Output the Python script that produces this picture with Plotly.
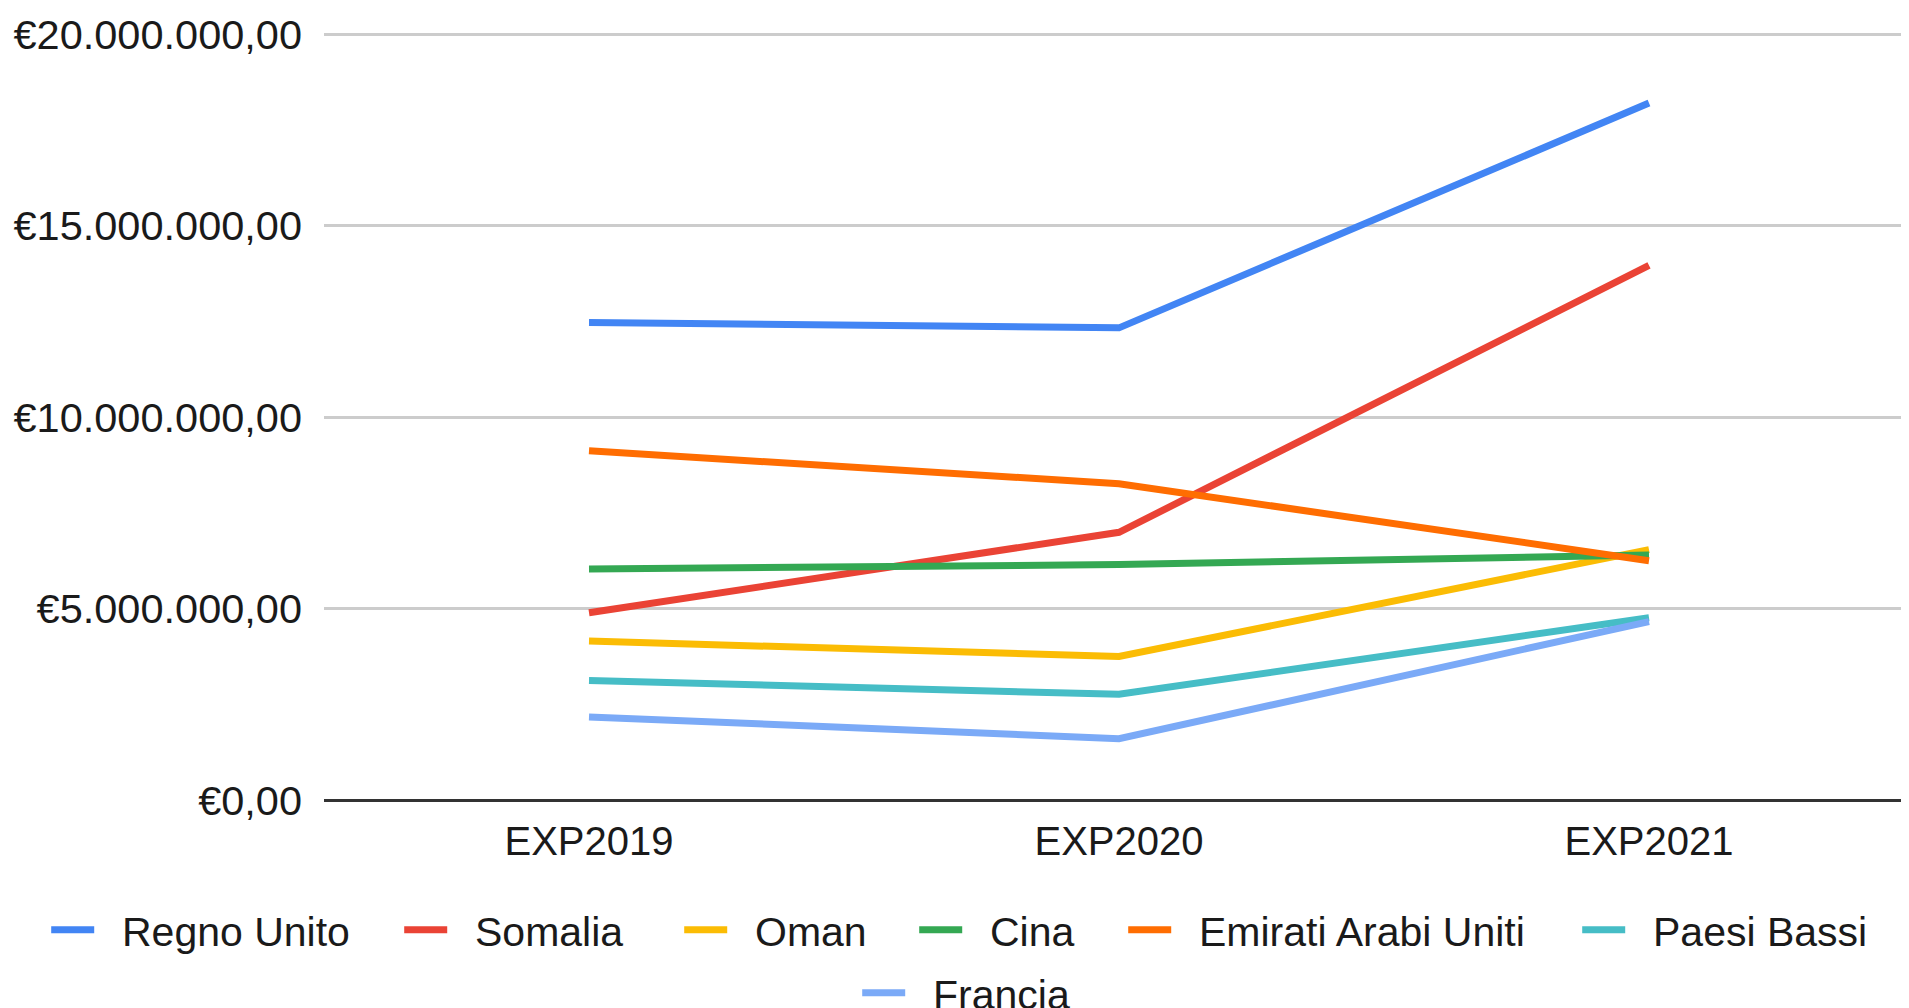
import plotly.graph_objects as go

categories = ["EXP2019", "EXP2020", "EXP2021"]

series_names = ["Regno Unito", "Somalia", "Oman", "Cina",
                "Emirati Arabi Uniti", "Paesi Bassi", "Francia"]

regno_unito = [12470000, 12330000, 18200000]
somalia = [4890000, 6990000, 13960000]
oman = [4150000, 3750000, 6540000]
cina = [6030000, 6150000, 6400000]
emirati = [9120000, 8260000, 6250000]
paesi_bassi = [3120000, 2760000, 4760000]
francia = [2170000, 1600000, 4660000]

series_values = [regno_unito, somalia, oman, cina, emirati, paesi_bassi, francia]
colors = ["#4285F4", "#EA4335", "#FBBC04", "#34A853", "#FF6D01", "#46BDC6", "#7BAAF7"]

# legend text start (px) and row centre (px) measured from reference
legend_text_x = [122, 475, 755, 990, 1199, 1653, 933]
legend_row_y = [930, 930, 930, 930, 930, 930, 993]

W, H = 1909, 1008
PAGE_OFF = 8  # default body margin of the html page
FONT = "Liberation Sans, Arial, sans-serif"
ITEMW = 43
PAD_TXT = "\u00a0\u00a0"
PAD_PX = 2 * 0.278 * 41

fig = go.Figure()
for i, (name, vals, col) in enumerate(zip(series_names, series_values, colors)):
    lg = "legend" if i == 0 else f"legend{i+1}"
    fig.add_trace(go.Scatter(
        x=categories, y=vals, name=PAD_TXT + name, mode="lines",
        line=dict(color=col, width=7),
        legend=lg,
    ))

layout_legends = {}
for i in range(len(series_names)):
    key = "legend" if i == 0 else f"legend{i+1}"
    lx = legend_text_x[i] - PAGE_OFF - (ITEMW + 10) - PAD_PX
    ly = legend_row_y[i] - PAGE_OFF
    layout_legends[key] = dict(
        orientation="h",
        xref="container", yref="container",
        x=lx / W,
        y=1 - ly / H,
        xanchor="left", yanchor="middle",
        font=dict(family=FONT, size=41, color="#1a1a1a"),
        bgcolor="rgba(0,0,0,0)",
        itemwidth=ITEMW,
        borderwidth=0,
    )

fig.update_layout(
    width=W, height=H,
    margin=dict(l=316, r=3, t=5, b=216, pad=0),
    paper_bgcolor="white", plot_bgcolor="white",
    separators=",.",
    font=dict(family=FONT, size=40, color="#1a1a1a"),
    showlegend=True,
    xaxis=dict(
        type="category",
        range=[-0.5, 2.5],
        showgrid=False,
        showline=False,
        zeroline=False,
        ticks="",
        tickfont=dict(family=FONT, size=40, color="#1a1a1a"),
        ticklabelstandoff=14,
    ),
    yaxis=dict(
        range=[0, 20500000],
        dtick=5000000,
        tick0=0,
        tickformat=",.2f",
        tickprefix="€",
        showgrid=True,
        gridcolor="#cccccc",
        gridwidth=3,
        zeroline=True,
        zerolinecolor="#333333",
        zerolinewidth=3,
        showline=False,
        ticks="",
        tickfont=dict(family=FONT, size=41.5, color="#1a1a1a"),
        ticklabelstandoff=21,
    ),
    **layout_legends,
)

fig.write_html("out.html")
